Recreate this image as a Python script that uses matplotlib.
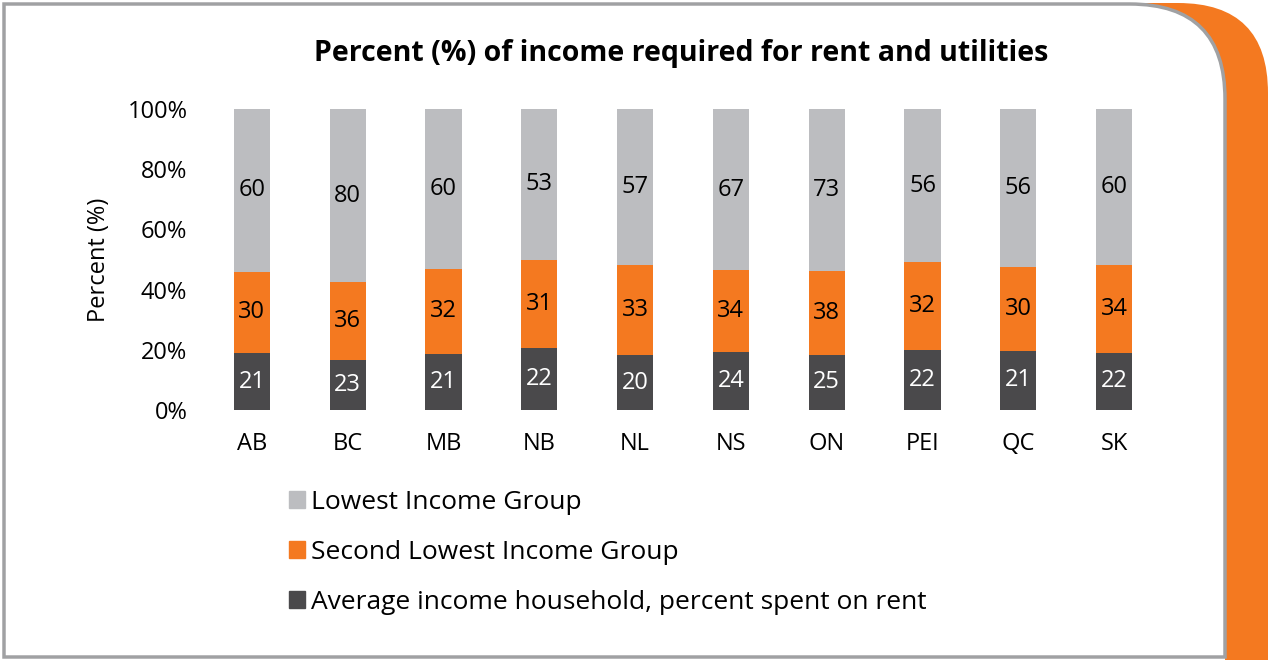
import numpy as np
import matplotlib
matplotlib.use("Agg")
import matplotlib.pyplot as plt
from matplotlib.path import Path
from matplotlib.patches import PathPatch, Patch

# data
provinces = ["AB", "BC", "MB", "NB", "NL", "NS", "ON", "PEI", "QC", "SK"]
avg_rent = [21, 23, 21, 22, 20, 24, 25, 22, 21, 22]
second_lowest = [30, 36, 32, 31, 33, 34, 38, 32, 30, 34]
lowest = [60, 80, 60, 53, 57, 67, 73, 56, 56, 60]

c_dark = "#4a494b"
c_orange = "#f47920"
c_gray = "#bcbdc0"

plt.rcParams["font.family"] = ["Open Sans", "DejaVu Sans"]

W, H = 1271, 660
fig = plt.figure(figsize=(W / 100, H / 100), dpi=100)

# background frame drawn in pixel coords
bg = fig.add_axes([0, 0, 1, 1], zorder=0)
bg.set_xlim(0, W)
bg.set_ylim(H, 0)
bg.axis("off")

R = 90
orange = Path([(1130, 3), (1268 - R, 3), (1268, 3), (1268, 3 + R), (1268, 662), (1225, 662), (1225, 100), (1130, 3)],
              [Path.MOVETO, Path.LINETO, Path.CURVE3, Path.CURVE3, Path.LINETO, Path.LINETO, Path.LINETO, Path.CLOSEPOLY])
bg.add_patch(PathPatch(orange, fc=c_orange, ec="none"))

r = 95
frame = Path([(4, 657), (4, 4), (1225 - r, 4), (1225, 4), (1225, 4 + r), (1225, 657), (4, 657)],
             [Path.MOVETO, Path.LINETO, Path.LINETO, Path.CURVE3, Path.CURVE3, Path.LINETO, Path.CLOSEPOLY])
bg.add_patch(PathPatch(frame, fc="white", ec="#a0a1a3", lw=2.5))

# main chart
ax = fig.add_axes([204 / W, 1 - 410 / H, 958 / W, 301 / H], zorder=1)
ax.patch.set_alpha(0)

tot = np.array(avg_rent) + np.array(second_lowest) + np.array(lowest)
p1 = np.array(avg_rent) / tot * 100
p2 = np.array(second_lowest) / tot * 100
p3 = np.array(lowest) / tot * 100
x = np.arange(len(provinces))
w = 0.376

ax.bar(x, p1, w, color=c_dark)
ax.bar(x, p2, w, bottom=p1, color=c_orange)
ax.bar(x, p3, w, bottom=p1 + p2, color=c_gray)

fs = 17
for i in range(len(provinces)):
    ax.text(x[i], p1[i] / 2, str(avg_rent[i]), ha="center", va="center", color="white", fontsize=fs)
    ax.text(x[i], p1[i] + p2[i] / 2, str(second_lowest[i]), ha="center", va="center", color="black", fontsize=fs)
    ax.text(x[i], p1[i] + p2[i] + p3[i] / 2, str(lowest[i]), ha="center", va="center", color="black", fontsize=fs)

ax.set_xlim(-0.5, len(provinces) - 0.5)
ax.set_ylim(0, 100)
ax.set_yticks(np.arange(0, 101, 20))
ax.set_yticklabels([f"{v}%" for v in range(0, 101, 20)], fontsize=fs)
ax.set_xticks(x)
ax.set_xticklabels(provinces, fontsize=fs)
ax.tick_params(length=0)
ax.tick_params(axis="x", pad=16)
ax.tick_params(axis="y", pad=12)
for s in ax.spines.values():
    s.set_visible(False)
ax.set_ylabel("Percent (%)", fontsize=fs, labelpad=12)

fig.text(681 / W, 1 - 53 / H, "Percent (%) of income required for rent and utilities",
         ha="center", va="center", fontsize=20.5, fontweight="bold")

handles = [Patch(color=c_gray, label="Lowest Income Group"),
           Patch(color=c_orange, label="Second Lowest Income Group"),
           Patch(color=c_dark, label="Average income household, percent spent on rent")]
fig.legend(handles=handles, loc="upper left", bbox_to_anchor=(289 / W, 1 - 490 / H), frameon=False,
           fontsize=19, handlelength=0.6, handleheight=0.6, handletextpad=0.25, labelspacing=0.95,
           borderaxespad=0, borderpad=0)

fig.savefig("out.png", dpi=100)
